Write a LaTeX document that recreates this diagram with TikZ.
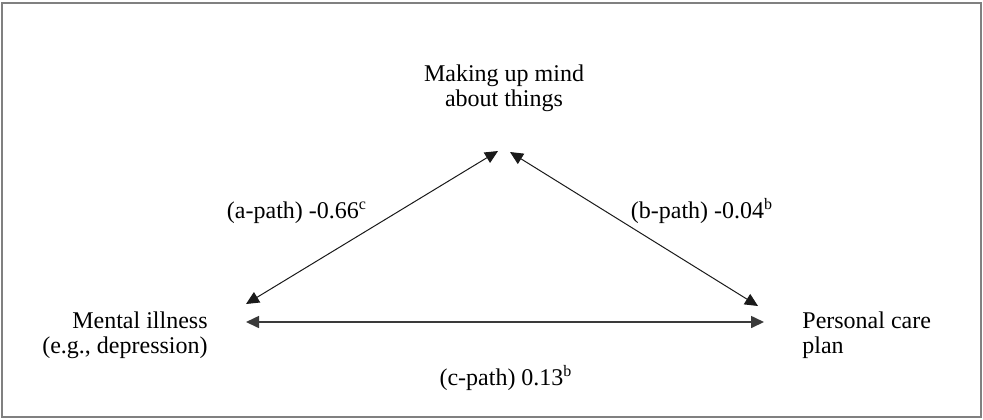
\documentclass[tikz,border=0pt]{standalone}
\usepackage{fontspec}
\setmainfont{Liberation Serif}
\usepackage{xcolor}
\definecolor{FrameGray}{HTML}{808080}
\definecolor{PathInk}  {HTML}{1A1A1A}
\definecolor{BaseInk}  {HTML}{3A3A3A}
\usetikzlibrary{arrows.meta,positioning}
\tikzset{
  varnode/.style={font=\fontsize{12}{12.8}\selectfont,inner sep=0pt},
  pathlabel/.style={font=\fontsize{12}{12.8}\selectfont,inner sep=0pt,anchor=base},
  pathedge/.style={{Triangle[length=6.5pt,width=6pt]}-{Triangle[length=6.5pt,width=6pt]},
    PathInk,line width=0.5pt},
  baseedge/.style={pathedge,BaseInk,line width=0.8pt},
  framebox/.style={draw=FrameGray,line width=1pt},
}

\begin{document}
\begin{tikzpicture}[x=0.5pt,y=-0.5pt]
  \useasboundingbox (0,0) rectangle (983,419);
  \draw[framebox] (1.5,2.5) rectangle (981,417);
  % variables (base = last line)
  \node[varnode,align=center,anchor=base](M)at(504,106.6)
    {Making up mind\\about things};
  \node[varnode,align=right,anchor=base east](X)at(208,353.6)
    {Mental illness\\(e.g., depression)};
  \node[varnode,align=left,anchor=base west](Y)at(802,353.6)
    {Personal care\\plan};
  % arrow ends
  \coordinate (aTop) at (498,151);
  \coordinate (bTop) at (510,152);
  \coordinate (aLow) at (246,304);
  \coordinate (bLow) at (758,306);
  \coordinate (cLeft) at (246,322);
  \coordinate (cRight) at (764,322);
  \draw[pathedge](aLow)--(aTop);
  \draw[pathedge](bTop)--(bLow);
  \draw[baseedge](cLeft)--(cRight);
  % path labels
  \node[pathlabel](A)at(297,218){(a-path) -0.66\textsuperscript{c}};
  \node[pathlabel](B)at(702,218){(b-path) -0.04\textsuperscript{b}};
  \node[pathlabel](C)at(506,385){(c-path) 0.13\textsuperscript{b}};
\end{tikzpicture}
\end{document}
